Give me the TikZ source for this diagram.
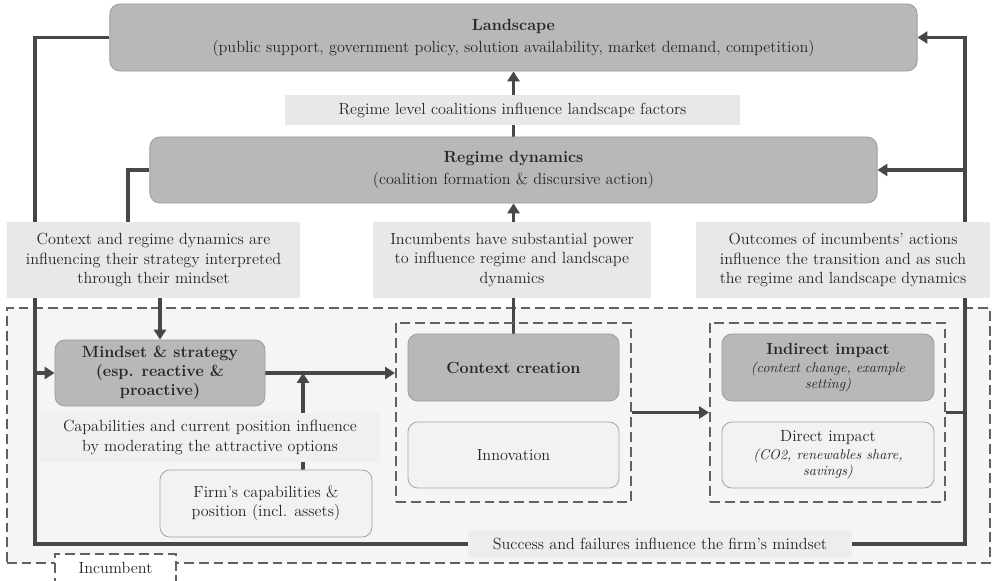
\documentclass[tikz,border=0pt]{standalone}
\usetikzlibrary{arrows.meta,positioning,backgrounds}
\tikzset{>={Triangle[length=7pt,width=8.5pt]}}
\colorlet{flowgray}{black!72}
\colorlet{textgray}{black!85}

\begin{document}
\begin{tikzpicture}[x=0.025cm,y=-0.025cm,
    font=\fontsize{11.5}{13.6}\selectfont,
    bigbox/.style={draw=black!38,fill=black!28,rounded corners=7pt,
      text=textgray,align=center,inner sep=0pt,line width=0.6pt},
    lightbox/.style={draw=black!35,fill=black!5,rounded corners=7pt,
      text=textgray,align=center,inner sep=0pt,line width=0.6pt},
    note/.style={fill=black!9,text=textgray,align=center,inner sep=0pt},
    group/.style={draw=black!62,line width=1.4pt,dash pattern=on 7pt off 3.5pt,
      inner sep=0pt},
    flow/.style={draw=flowgray,line width=2.5pt}]
    \useasboundingbox (0,0) rectangle (993,580);

    % macro level
    \node (land) [bigbox,minimum width=20.175cm,minimum height=1.675cm]
      at (513.5,37.5) {\textbf{Landscape}\\[2pt](public support, government policy, solution availability, market demand, competition)};
    \node (coal) [note,minimum width=11.375cm,minimum height=0.75cm]
      at (512.5,110) {Regime level coalitions influence landscape factors};
    \node (reg) [bigbox,minimum width=18.175cm,minimum height=1.65cm]
      at (513.5,170) {\textbf{Regime dynamics}\\[2pt](coalition formation \& discursive action)};

    % explanations
    \node (lab1) [note,minimum width=7.325cm,minimum height=1.9cm]
      at (153.5,260) {Context and regime dynamics are\\influencing their strategy interpreted\\through their mindset};
    \node (lab2) [note,minimum width=6.95cm,minimum height=1.9cm]
      at (512,260) {Incumbents have substantial power\\to influence regime and landscape\\dynamics};
    \node (lab3) [note,minimum width=7.35cm,minimum height=1.9cm]
      at (843,260) {Outcomes of incumbents’ actions\\influence the transition and as such\\the regime and landscape dynamics};

    % incumbent
    \node (mind) [bigbox,font=\fontsize{11.5}{13.6}\selectfont\bfseries,
      minimum width=5.25cm,minimum height=1.65cm]
      at (160,373) {Mindset \& strategy\\(esp. reactive \&\\proactive)};
    \node (cap) [note,fill=black!6,minimum width=8.5cm,minimum height=1.225cm]
      at (210,437.5) {Capabilities and current position influence\\by moderating the attractive options};
    \node (firm) [lightbox,minimum width=5.3cm,minimum height=1.675cm]
      at (266,503.5) {Firm’s capabilities \&\\position (incl. assets)};

    \node (ctxg) [group,minimum width=5.875cm,minimum height=4.475cm] at (513.5,412.5) {};
    \node (ctx) [bigbox,minimum width=5.275cm,minimum height=1.675cm]
      at (513.5,367.5) {\textbf{Context creation}};
    \node (innov) [lightbox,minimum width=5.275cm,minimum height=1.65cm]
      at (513.5,455) {Innovation};

    \node (impg) [group,minimum width=5.875cm,minimum height=4.475cm] at (827.5,412.5) {};
    \node (indir) [bigbox,minimum width=5.3cm,minimum height=1.675cm]
      at (828,367.5) {\textbf{Indirect impact}\\[-1pt]\textit{\fontsize{10}{12}\selectfont(context change, example}\\[-2pt]\textit{\fontsize{10}{12}\selectfont setting)}};
    \node (dir) [lightbox,minimum width=5.3cm,minimum height=1.65cm]
      at (828,455) {Direct impact\\[-1pt]\textit{\fontsize{10}{12}\selectfont(CO2, renewables share,}\\[-2pt]\textit{\fontsize{10}{12}\selectfont savings)}};

    \node (succ) [note,fill=black!7,minimum width=9.6cm,minimum height=0.7cm]
      at (660,544) {Success and failures influence the firm’s mindset};
    \node (inc) [group,fill=white,text=textgray,minimum width=3.025cm,minimum height=0.72cm]
      at (115.5,568) {Incumbent};

    \coordinate (lx) at (35,0);
    \coordinate (rx) at (965,0);
    \coordinate (rlx) at (128,0);
    \coordinate (capx) at (303,0);

    \begin{scope}[on background layer]
      \node (frame) [group,fill=black!4,minimum width=24.575cm,minimum height=6.375cm]
        at (498.5,435.5) {};

      \draw[flow] (land.west) -| (lx |- succ.west) -- (succ.west);
      \draw[flow,->] (lx |- mind.west) -- (mind.west);
      \draw[flow] (reg.west) -| (rlx |- lab1.north);
      \draw[flow,->] (lab1.south -| mind.north) -- (mind.north);
      \draw[flow,->] (mind.east) -- (mind.east -| ctxg.west);
      \draw[flow,->] (capx |- cap.north) -- (capx |- mind.east);
      \draw[flow] (capx |- firm.north) -- (capx |- cap.south);
      \draw[flow,->] (ctx.north) -- (reg.south);
      \draw[flow,->] (reg.north) -- (land.south);
      \draw[flow,->] (ctxg.east) -- (impg.west);
      \draw[flow] (impg.east) -| (rx |- succ.east) -- (succ.east);
      \draw[flow,->] (rx |- impg.east) |- (land.east);
      \draw[flow,->] (rx |- reg.east) -- (reg.east);
    \end{scope}
  \end{tikzpicture}
\end{document}
